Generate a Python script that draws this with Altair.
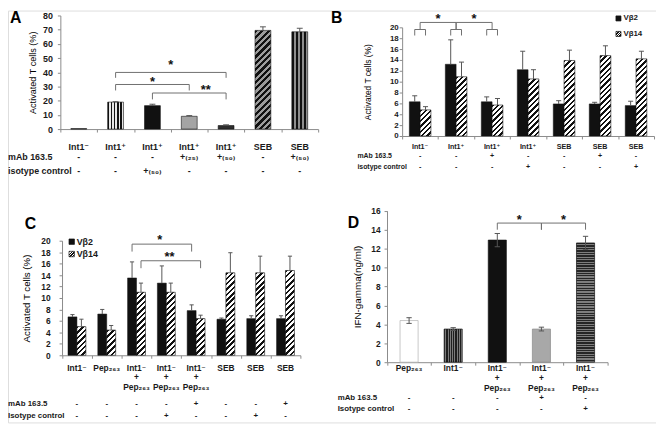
import altair as alt
import pandas as pd

FONT = "Liberation Sans, Arial, DejaVu Sans, sans-serif"
AXC = "#8a8a8a"
BRC = "#6f6f6f"
ERC = "#555555"
INK = "#111111"
TXT = "#1a1a1a"
CW, CH = 656, 417

# ---------------- data ----------------
series = ["Vβ2", "Vβ14"]
panel_letters = ["A", "B", "C", "D"]
row_labels_ab = ["mAb 163.5", "isotype control"]
row_labels_cd = ["mAb 163.5", "Isotype control"]

# Panel A
a_ids = ["A1", "A2", "A3", "A4", "A5", "A6", "A7"]
a_labels = ["Int1⁻", "Int1⁺", "Int1⁺", "Int1⁺", "Int1⁺", "SEB", "SEB"]
a_values = [0.3, 19.0, 16.5, 9.0, 2.5, 69.5, 68.5]
a_errors = [0.0, 0.3, 1.0, 0.5, 0.5, 2.5, 2.5]
a_mab = ["-", "-", "-", "+₍₂₅₎", "+₍₅₀₎", "-", "+₍₅₀₎"]
a_iso = ["-", "-", "+₍₅₀₎", "-", "-", "-", "-"]
a_brackets = [("A2", "A5", 39.9, 36.1), ("A2", "A4", 31.4, 27.2), ("A3", "A5", 25.4, 20.9)]
a_stars = [("A4", 0.0, 47.3, "*"), ("A3", 0.5, 35.4, "*"), ("A4", 0.95, 29.4, "**")]

# Panel B
b_ids = ["B1", "B2", "B3", "B4", "B5", "B6", "B7"]
b_labels = ["Int1⁻", "Int1⁺", "Int1⁺", "Int1⁺", "SEB", "SEB", "SEB"]
b_vb2 = [6.3, 13.2, 6.3, 12.2, 5.9, 5.9, 5.6]
b_vb2_err = [1.1, 4.5, 0.9, 3.4, 0.6, 0.3, 0.8]
b_vb14 = [4.8, 10.9, 5.7, 10.5, 13.9, 14.8, 14.2]
b_vb14_err = [0.6, 2.7, 1.2, 1.7, 1.9, 1.8, 1.4]
b_mab = ["-", "-", "+", "-", "-", "+", "-"]
b_iso = ["-", "-", "-", "+", "-", "-", "+"]
b_big = [("B1", "B2", 20.9, 19.6), ("B2", "B3", 20.9, 19.6)]
b_small = [("B1", "B1", 19.6, 18.5), ("B2", "B2", 19.6, 18.5), ("B3", "B3", 19.6, 18.5)]
b_stars = [("B2", 0.0, 22.0, "*"), ("B3", 0.0, 22.0, "*")]

# Panel C
c_ids = ["C1", "C2", "C3", "C4", "C5", "C6", "C7", "C8"]
c_labels = ["Int1⁻", "Pep₂₆₃", "Int1⁻\n+\nPep₂₆₃", "Int1⁻\n+\nPep₂₆₃", "Int1⁻\n+\nPep₂₆₃",
            "SEB", "SEB", "SEB"]
c_vb2 = [6.7, 7.2, 13.5, 12.6, 7.8, 6.3, 6.4, 6.4]
c_vb2_err = [0.4, 0.8, 2.8, 3.0, 1.0, 0.2, 0.5, 0.5]
c_vb14 = [5.0, 4.4, 11.0, 11.0, 6.4, 14.4, 14.4, 14.8]
c_vb14_err = [1.3, 0.8, 1.6, 1.6, 0.6, 3.5, 2.9, 2.5]
c_mab = ["-", "-", "-", "-", "+", "-", "-", "+"]
c_iso = ["-", "-", "-", "+", "-", "-", "+", "-"]
c_br_black = [("C3", "C5", 19.4, 18.1)]
c_br_hatch = [("C3", "C5", 16.5, 15.2)]
c_stars = [("C4", 0.28, 20.7, "*"), ("C4", 0.61, 17.6, "**")]

# Panel D
d_ids = ["D1", "D2", "D3", "D4", "D5"]
d_labels = ["Pep₂₆₃", "Int1⁻", "Int1⁻\n+\nPep₂₆₃", "Int1⁻\n+\nPep₂₆₃", "Int1⁻\n+\nPep₂₆₃"]
d_values = [4.4, 3.5, 12.9, 3.5, 12.6]
d_errors = [0.3, 0.15, 0.7, 0.2, 0.7]
d_mab = ["-", "-", "-", "+", "-"]
d_iso = ["-", "-", "-", "-", "+"]
d_brackets = [("D3", "D4", 14.7, 14.0), ("D4", "D5", 14.7, 14.0)]
d_stars = [("D4", 0.0, 15.3, "*"), ("D5", 0.0, 15.3, "*")]

# ---------------- layout (canvas pixels) ----------------
A_X = (53, 314); A_Y = (120, 5)
B_X = (399, 654); B_Y = (127, 17)
C_X = (54.7, 296); C_Y = (349, 233)
D_X = (383.7, 607); D_Y = (356, 202.7)


# ---------------- stripe fills (linear gradients) ----------------
def grad(x2, y2, n, fg, bg, frac):
    st = []
    for k in range(n):
        a = round(k / n, 5)
        b = round((k + frac) / n, 5)
        c = round((k + 1) / n, 5)
        st += [{"offset": a, "color": fg}, {"offset": b, "color": fg},
               {"offset": b, "color": bg}, {"offset": c, "color": bg}]
    return {"gradient": "linear", "x1": 0, "y1": 0, "x2": x2, "y2": y2, "stops": st}


def vstripes(w, period, fg, bg, frac=0.5):
    return grad(1, 0, max(1, round(w / period)), fg, bg, frac)


def hstripes(h, period, fg, bg, frac=0.5):
    return grad(0, 1, max(1, round(h / period)), fg, bg, frac)


def dstripes(w, h, period, fg, bg, frac=0.45):
    h = max(h, 1.0)
    s = w * w + h * h
    return grad((w + h) * w / s, (w + h) * h / s, max(1, round((w + h) / period)), fg, bg, frac)


# ---------------- helpers ----------------
def y_axis(values, rng_x, title, title_x, lab_fs, title_fs, pad):
    return alt.Axis(orient="left", offset=-rng_x, values=values, title=title, titleX=title_x,
                    titleBaseline="middle", titleAngle=270, titleFont=FONT, titleFontSize=title_fs,
                    titleFontWeight="normal", titleColor="black", labelFont=FONT,
                    labelFontSize=lab_fs, labelFontWeight="bold", labelColor=TXT,
                    labelPadding=pad, tickSize=3, tickColor=AXC, domainColor=AXC, grid=False,
                    labelOverlap=False)


def x_axis(zero_y):
    return alt.Axis(orient="bottom", offset=zero_y - CH, labels=False, title=None,
                    tickBand="extent", tickSize=3, tickColor=AXC, domainColor=AXC, grid=False)


def label(text, x, y, fs, align="left", weight="bold"):
    return alt.Chart(pd.DataFrame({"t": [text]})).mark_text(
        font=FONT, fontSize=fs, align=align, baseline="middle", fontWeight=weight,
        color=TXT).encode(x=alt.value(x), y=alt.value(y), text="t:N")


def top_label(text, x, y, fs):
    return alt.Chart(pd.DataFrame({"t": [text]})).mark_text(
        font=FONT, fontSize=fs, align="left", baseline="top", fontWeight="bold",
        color="black").encode(x=alt.value(x), y=alt.value(y), text="t:N")


def text_rows(df, X, ys, fs, baseline="middle", line_h=10):
    out = []
    for field, y in ys:
        out.append(alt.Chart(df).mark_text(font=FONT, fontSize=fs, baseline=baseline,
                                           fontWeight="bold", color=TXT, lineBreak="\n",
                                           lineHeight=line_h)
                   .encode(x=X, y=alt.value(y), text=f"{field}:N"))
    return out


def error_layers(base, bp, half, xs, xa, ys, ya, lo="value", caps=("hi",)):
    """Vertical error line plus horizontal caps, all positioned through the band scale."""
    Xc = alt.X("id:N", bandPosition=bp, scale=xs, axis=xa)
    out = [base.mark_rule(color=ERC, strokeWidth=1).encode(
        x=Xc, y=alt.Y(f"{lo}:Q", scale=ys, axis=ya), y2="hi:Q")]
    for f in caps:
        out.append(base.mark_rule(color=ERC, strokeWidth=1).encode(
            x=alt.X("id:N", bandPosition=bp - half, scale=xs, axis=xa),
            x2=alt.X2("id:N", bandPosition=bp + half),
            y=alt.Y(f"{f}:Q", scale=ys, axis=ya)))
    return out


def bracket_layers(rows, bp0, bp1, xs, xa, ys, ya):
    df = pd.DataFrame(rows, columns=["s", "e", "top", "bot"])
    base = alt.Chart(df)
    X0 = alt.X("s:N", bandPosition=bp0, scale=xs, axis=xa)
    X1 = alt.X("e:N", bandPosition=bp1, scale=xs, axis=xa)
    Yt = alt.Y("top:Q", scale=ys, axis=ya)
    return [
        base.mark_rule(color=BRC, strokeWidth=1).encode(
            x=X0, x2=alt.X2("e:N", bandPosition=bp1), y=Yt),
        base.mark_rule(color=BRC, strokeWidth=1).encode(x=X0, y=Yt, y2="bot:Q"),
        base.mark_rule(color=BRC, strokeWidth=1).encode(x=X1, y=Yt, y2="bot:Q"),
    ]


def star_layers(rows, xs, xa, ys, ya):
    out = []
    for cid, bp, y, t in rows:
        df = pd.DataFrame({"id": [cid], "y": [y], "t": [t]})
        out.append(alt.Chart(df).mark_text(font=FONT, fontSize=13, fontWeight="bold",
                                           baseline="middle", dy=3, color=INK)
                   .encode(x=alt.X("id:N", bandPosition=bp, scale=xs, axis=xa),
                           y=alt.Y("y:Q", scale=ys, axis=ya), text="t:N"))
    return out


# ================= Panel A =================
xsA = alt.Scale(domain=a_ids, range=list(A_X), paddingInner=0, paddingOuter=0)
ysA = alt.Scale(domain=[0, 80], range=list(A_Y), nice=False)
xaA = x_axis(A_Y[0])
yaA = y_axis(list(range(0, 81, 10)), A_X[0], "Activated T cells (%)", -28, 9, 9.2, 5)
dfA = pd.DataFrame({"id": a_ids, "label": a_labels, "value": a_values, "err": a_errors,
                    "mab": a_mab, "iso": a_iso})
dfA["hi"] = dfA["value"] + dfA["err"]
XA = alt.X("id:N", scale=xsA, axis=xaA)
YA = alt.Y("value:Q", scale=ysA, axis=yaA)

bandA = (A_X[1] - A_X[0]) / len(a_ids)
wA = 0.43 * bandA
ppuA = (A_Y[0] - A_Y[1]) / 80
fillsA = [
    INK,
    vstripes(wA, 3.2, INK, "#e6e6e6", 0.42),
    INK,
    "#a4a4a4",
    "#2e2e2e",
    dstripes(wA, a_values[5] * ppuA, 6.5, INK, "#9c9c9c", 0.5),
    vstripes(wA, 3.6, INK, "#8e8e8e", 0.55),
]
a_layers = []
for i, cid in enumerate(a_ids):
    a_layers.append(alt.Chart(dfA).transform_filter(alt.datum.id == cid).mark_bar(
        fill=fillsA[i], stroke=INK, strokeWidth=0.6, width=alt.RelativeBandSize(0.43)
    ).encode(x=XA, y=YA))
a_layers += error_layers(alt.Chart(dfA).transform_filter(alt.datum.err > 0),
                         0.5, 0.08, xsA, xaA, ysA, yaA)
a_layers += text_rows(dfA, XA, [("label", 137.7), ("mab", 148.7), ("iso", 162.7)], 9)
a_layers += bracket_layers(a_brackets, 0.5, 0.5, xsA, xaA, ysA, yaA)
a_layers += star_layers(a_stars, xsA, xaA, ysA, yaA)
panelA = alt.layer(*a_layers)


# ================= grouped panels (B, C) =================
def grouped_panel(ids, v2, e2, v14, e14, X_rng, Y_rng, ymax, title,
                  title_x, lab_fs, title_fs, pad, period):
    xs = alt.Scale(domain=ids, range=list(X_rng), paddingInner=0, paddingOuter=0)
    ys = alt.Scale(domain=[0, ymax], range=list(Y_rng), nice=False)
    xo = alt.Scale(domain=series, paddingInner=0, paddingOuter=0.667)
    xa = x_axis(Y_rng[0])
    ya = y_axis(list(range(0, ymax + 1, 2)), X_rng[0], title, title_x, lab_fs, title_fs, pad)
    n = len(ids)
    df = pd.DataFrame({
        "id": ids * 2, "series": [series[0]] * n + [series[1]] * n,
        "value": v2 + v14, "err": e2 + e14})
    df["hi"] = df["value"] + df["err"]
    X = alt.X("id:N", scale=xs, axis=xa)
    Y = alt.Y("value:Q", scale=ys, axis=ya)
    XO = alt.XOffset("series:N", scale=xo)
    band = (X_rng[1] - X_rng[0]) / n
    w = 0.3 * band
    ppu = (Y_rng[0] - Y_rng[1]) / ymax
    layers = [alt.Chart(df).transform_filter(alt.datum.series == series[0]).mark_bar(
        fill=INK, stroke=INK, strokeWidth=0.5).encode(x=X, xOffset=XO, y=Y)]
    for cid, v in zip(ids, v14):
        layers.append(alt.Chart(df).transform_filter(
            (alt.datum.series == series[1]) & (alt.datum.id == cid)).mark_bar(
            fill=dstripes(w, v * ppu, period, INK, "white", 0.45), stroke=INK,
            strokeWidth=0.6).encode(x=X, xOffset=XO, y=Y))
    for s, bp in ((series[0], 0.35), (series[1], 0.65)):
        base = alt.Chart(df).transform_filter(alt.datum.series == s)
        layers += error_layers(base, bp, 0.07, xs, xa, ys, ya)
    return layers, xs, xa, ys, ya, X


b_layers, xsB, xaB, ysB, yaB, XB = grouped_panel(
    b_ids, b_vb2, b_vb2_err, b_vb14, b_vb14_err, B_X, B_Y, 20,
    "Activated T cells (%)", -35, 8, 8.5, 1, 5.5)
dlB = pd.DataFrame({"id": b_ids, "label": b_labels, "mab": b_mab, "iso": b_iso})
b_layers += text_rows(dlB, XB, [("label", 137.7), ("mab", 147.7), ("iso", 158.7)], 7.2)
b_layers += bracket_layers(b_big, 0.5, 0.5, xsB, xaB, ysB, yaB)
b_layers += bracket_layers(b_small, 0.35, 0.65, xsB, xaB, ysB, yaB)
b_layers += star_layers(b_stars, xsB, xaB, ysB, yaB)
panelB = alt.layer(*b_layers)

c_layers, xsC, xaC, ysC, yaC, XC = grouped_panel(
    c_ids, c_vb2, c_vb2_err, c_vb14, c_vb14_err, C_X, C_Y, 20,
    "Activated T cells (%)", -36, 8.5, 9.8, 9, 5.5)
dlC = pd.DataFrame({"id": c_ids, "label": c_labels, "mab": c_mab, "iso": c_iso})
c_layers += text_rows(dlC, XC, [("label", 357.5)], 8.5, "top", 10)
c_layers += text_rows(dlC, XC, [("mab", 398.7), ("iso", 410.3)], 8)
c_layers += bracket_layers(c_br_black, 0.35, 0.35, xsC, xaC, ysC, yaC)
c_layers += bracket_layers(c_br_hatch, 0.65, 0.65, xsC, xaC, ysC, yaC)
c_layers += star_layers(c_stars, xsC, xaC, ysC, yaC)
panelC = alt.layer(*c_layers)

# ================= Panel D =================
xsD = alt.Scale(domain=d_ids, range=list(D_X), paddingInner=0, paddingOuter=0)
ysD = alt.Scale(domain=[0, 16], range=list(D_Y), nice=False)
xaD = x_axis(D_Y[0])
yaD = y_axis(list(range(0, 17, 2)), D_X[0], "IFN-gamma(ng/ml)", -30, 8.5, 10, 4)
dfD = pd.DataFrame({"id": d_ids, "label": d_labels, "value": d_values, "err": d_errors,
                    "mab": d_mab, "iso": d_iso})
dfD["hi"] = dfD["value"] + dfD["err"]
dfD["lo"] = dfD["value"] - dfD["err"]
XD = alt.X("id:N", scale=xsD, axis=xaD)
YD = alt.Y("value:Q", scale=ysD, axis=yaD)
bandD = (D_X[1] - D_X[0]) / len(d_ids)
wD = 0.41 * bandD
ppuD = (D_Y[0] - D_Y[1]) / 16
fillsD = [
    "white",
    vstripes(wD, 2.2, "#1e1e1e", "#7a7a7a", 0.5),
    INK,
    "#a8a8a8",
    hstripes(d_values[4] * ppuD, 2.5, "#262626", "#7e7e7e", 0.5),
]
strokesD = ["#b0b0b0", INK, INK, "#888888", INK]
d_layers = []
for i, cid in enumerate(d_ids):
    d_layers.append(alt.Chart(dfD).transform_filter(alt.datum.id == cid).mark_bar(
        fill=fillsD[i], stroke=strokesD[i], strokeWidth=0.7, width=alt.RelativeBandSize(0.41)
    ).encode(x=XD, y=YD))
d_layers += error_layers(alt.Chart(dfD), 0.5, 0.06, xsD, xaD, ysD, yaD,
                         lo="lo", caps=("hi", "lo"))
d_layers += text_rows(dfD, XD, [("label", 357.5)], 8.5, "top", 10.5)
d_layers += text_rows(dfD, XD, [("mab", 392.7), ("iso", 403)], 8)
d_layers += bracket_layers(d_brackets, 0.5, 0.5, xsD, xaD, ysD, yaD)
d_layers += star_layers(d_stars, xsD, xaD, ysD, yaD)
panelD = alt.layer(*d_layers)

# ================= decorations (legends, row titles, letters) =================
deco = [
    top_label(panel_letters[0], 2, 0, 16),
    top_label(panel_letters[1], 327, 0, 16),
    top_label(panel_letters[2], 17, 208, 16),
    top_label(panel_letters[3], 344, 207, 16),
    label(row_labels_ab[0], 0, 148.7, 9),
    label(row_labels_ab[1], 0, 162.7, 9),
    label(row_labels_ab[0], 353.7, 147.7, 7),
    label(row_labels_ab[1], 353.7, 158.7, 7),
    label(row_labels_cd[0], 0, 398.7, 8),
    label(row_labels_cd[1], 0, 410.3, 8),
    label(row_labels_cd[0], 333.7, 392.7, 8),
    label(row_labels_cd[1], 333.7, 403, 8),
]


def legend(x, y0, dy, fs, size):
    out = []
    fills = [INK, dstripes(5.5, 5.5, 2.6, INK, "white", 0.5)]
    for k, s in enumerate(series):
        df = pd.DataFrame({"t": [s]})
        out.append(alt.Chart(df).mark_square(size=size, fill=fills[k], stroke=INK,
                                             strokeWidth=0.7, opacity=1).encode(
            x=alt.value(x), y=alt.value(y0 + k * dy)))
        out.append(alt.Chart(df).mark_text(font=FONT, fontSize=fs, align="left",
                                           baseline="middle", fontWeight="bold",
                                           color=TXT).encode(
            x=alt.value(x + 5), y=alt.value(y0 + k * dy), text="t:N"))
    return out


deco += legend(618, 8, 15.7, 8, 26)
deco += legend(64.5, 234, 12.5, 9, 30)
decoLayer = alt.layer(*deco)

chart = alt.layer(panelA, panelB, panelC, panelD, decoLayer).resolve_scale(
    x="independent", y="independent", xOffset="independent"
).properties(
    width=CW, height=CH, padding=0, autosize=alt.AutoSizeParams(type="none")
).configure_view(stroke=None).configure(background="white")

chart.save("out.html", embed_options={"renderer": "svg", "actions": False})
